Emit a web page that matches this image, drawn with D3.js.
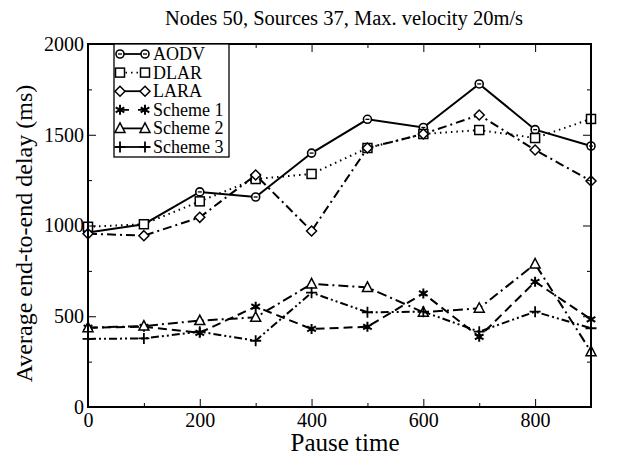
<!DOCTYPE html>
<html>
<head>
<meta charset="utf-8">
<script src="https://cdn.jsdelivr.net/npm/d3@7"></script>
<style>
  body { margin: 0; background: #fff; }
  svg text { font-family: "Liberation Serif", "DejaVu Serif", serif; fill: #000; }
</style>
</head>
<body>
<svg id="chart" width="617" height="458"></svg>
<script>
// dữ liệu
const pauseTimes = [0, 100, 200, 300, 400, 500, 600, 700, 800, 900];
const aodv    = [962, 1007, 1185, 1157, 1399, 1585, 1540, 1780, 1528, 1438];
const dlar    = [993, 1007, 1133, 1256, 1284, 1427, 1504, 1526, 1482, 1587];
const lara    = [955, 944, 1045, 1278, 970, 1427, 1504, 1609, 1416, 1245];
const scheme1 = [437, 442, 409, 553, 430, 442, 626, 387, 690, 483];
const scheme2 = [437, 446, 476, 494, 678, 659, 522, 544, 788, 305];
const scheme3 = [375, 378, 415, 365, 630, 522, 525, 415, 525, 434];
const seriesNames = ["AODV", "DLAR", "LARA", "Scheme 1", "Scheme 2", "Scheme 3"];
const xTicks = [0, 200, 400, 600, 800];
const yTicks = [0, 500, 1000, 1500, 2000];

const titleText = "Nodes 50, Sources 37, Max. velocity 20m/s";
const xLabel = "Pause time";
const yLabel = "Average end-to-end delay (ms)";

const svg = d3.select("#chart");
const margin = { top: 44, right: 26, bottom: 51, left: 88 };
const W = 617, H = 458;
const iw = W - margin.left - margin.right;
const ih = H - margin.top - margin.bottom;

const x = d3.scaleLinear().domain([0, 900]).range([0, iw]);
const y = d3.scaleLinear().domain([0, 2000]).range([ih, 0]);

const g = svg.append("g").attr("transform", `translate(${margin.left},${margin.top})`);

// kiểu đường + ký hiệu cho từng dãy
const styles = [
  { data: aodv,    dash: null,            marker: "circle" },
  { data: dlar,    dash: "1.5,4",         marker: "square" },
  { data: lara,    dash: "9,4,2,4",       marker: "diamond" },
  { data: scheme1, dash: "9,5",           marker: "star" },
  { data: scheme2, dash: "10,4,2,4",      marker: "triangle" },
  { data: scheme3, dash: "8,3,2,3,2,3",   marker: "plus" }
];

function drawMarker(sel, type) {
  if (type === "circle") {
    sel.append("circle").attr("r", 4).attr("fill", "#fff").attr("stroke", "#000").attr("stroke-width", 1.6);
    sel.append("line").attr("x1", -2).attr("x2", 2).attr("stroke", "#000").attr("stroke-width", 1.3);
  } else if (type === "square") {
    sel.append("rect").attr("x", -4.5).attr("y", -4.5).attr("width", 9).attr("height", 9)
      .attr("fill", "#fff").attr("stroke", "#000").attr("stroke-width", 1.5);
  } else if (type === "diamond") {
    sel.append("path").attr("d", "M0,-5L5,0L0,5L-5,0Z").attr("fill", "#fff").attr("stroke", "#000").attr("stroke-width", 1.5);
  } else if (type === "triangle") {
    sel.append("path").attr("d", "M0,-5.5L5,4L-5,4Z").attr("fill", "#fff").attr("stroke", "#000").attr("stroke-width", 1.5);
  } else if (type === "star") {
    sel.append("path").attr("d", d3.symbol(d3.symbolAsterisk, 70)).attr("fill", "none").attr("stroke", "#000").attr("stroke-width", 2);
    sel.append("circle").attr("r", 2.2).attr("fill", "#000");
  } else if (type === "plus") {
    sel.append("path").attr("d", "M-5.5,0H5.5M0,-5.5V5.5").attr("stroke", "#000").attr("stroke-width", 1.8);
  }
}

const line = d3.line().x((d, i) => x(pauseTimes[i])).y(d => y(d));

styles.forEach(s => {
  g.append("path")
    .datum(s.data)
    .attr("fill", "none")
    .attr("stroke", "#000")
    .attr("stroke-width", 2)
    .attr("stroke-dasharray", s.dash)
    .attr("d", line);
  g.selectAll(null)
    .data(s.data)
    .enter()
    .append("g")
    .attr("transform", (d, i) => `translate(${x(pauseTimes[i])},${y(d)})`)
    .each(function () { drawMarker(d3.select(this), s.marker); });
});

// trục: vạch hướng vào trong trên cả 4 cạnh
const xMinor = d3.range(100, 900, 200);
const yMinor = d3.range(250, 2000, 500);
const tickFont = "20px";

g.append("g").attr("transform", `translate(0,${ih})`)
  .call(d3.axisBottom(x).tickValues(xTicks).tickSize(-8).tickPadding(6).tickFormat(d3.format("d")))
  .call(a => a.select(".domain").remove())
  .call(a => a.attr("font-family", null).selectAll("text").style("font-size", tickFont));
g.append("g").attr("transform", `translate(0,${ih})`)
  .call(d3.axisBottom(x).tickValues(xMinor).tickSize(-4).tickFormat(""))
  .call(a => a.select(".domain").remove());
g.append("g")
  .call(d3.axisTop(x).tickValues(xTicks).tickSize(-8).tickFormat(""))
  .call(a => a.select(".domain").remove());
g.append("g")
  .call(d3.axisTop(x).tickValues(xMinor).tickSize(-4).tickFormat(""))
  .call(a => a.select(".domain").remove());

g.append("g")
  .call(d3.axisLeft(y).tickValues(yTicks).tickSize(-8).tickPadding(4).tickFormat(d3.format("d")))
  .call(a => a.select(".domain").remove())
  .call(a => a.attr("font-family", null).selectAll("text").style("font-size", tickFont));
g.append("g")
  .call(d3.axisLeft(y).tickValues(yMinor).tickSize(-4).tickFormat(""))
  .call(a => a.select(".domain").remove());
g.append("g").attr("transform", `translate(${iw},0)`)
  .call(d3.axisRight(y).tickValues(yTicks).tickSize(-8).tickFormat(""))
  .call(a => a.select(".domain").remove());
g.append("g").attr("transform", `translate(${iw},0)`)
  .call(d3.axisRight(y).tickValues(yMinor).tickSize(-4).tickFormat(""))
  .call(a => a.select(".domain").remove());

g.selectAll(".tick line").attr("stroke", "#000").attr("stroke-width", 1);

// khung
g.append("rect").attr("width", iw).attr("height", ih)
  .attr("fill", "none").attr("stroke", "#000").attr("stroke-width", 2);

// chú thích
const legend = g.append("g").attr("transform", "translate(26,0)");
legend.append("rect").attr("width", 115).attr("height", 113)
  .attr("fill", "#fff").attr("stroke", "#000").attr("stroke-width", 1.3);
seriesNames.forEach((name, i) => {
  const s = styles[i];
  const row = legend.append("g").attr("transform", `translate(0,${10 + i * 18.6})`);
  row.append("line").attr("x1", 6).attr("x2", 31)
    .attr("stroke", "#000").attr("stroke-width", 1.8)
    .attr("stroke-dasharray", i === 1 ? "1.5,4" : (i === 3 ? "9,9" : null));
  [6, 31].forEach(px => drawMarker(row.append("g").attr("transform", `translate(${px},0)`), s.marker));
  row.append("text").attr("x", 39).attr("y", 6).style("font-size", "18px").text(name);
});

// tiêu đề và nhãn trục
svg.append("text").attr("x", 344).attr("y", 25).attr("text-anchor", "middle")
  .style("font-size", "20.5px").text(titleText);
svg.append("text").attr("x", 345).attr("y", 451).attr("text-anchor", "middle")
  .style("font-size", "25px").text(xLabel);
svg.append("text").attr("transform", `translate(32,${margin.top + ih / 2 + 8}) rotate(-90)`)
  .attr("text-anchor", "middle").style("font-size", "24px").text(yLabel);
</script>
</body>
</html>
